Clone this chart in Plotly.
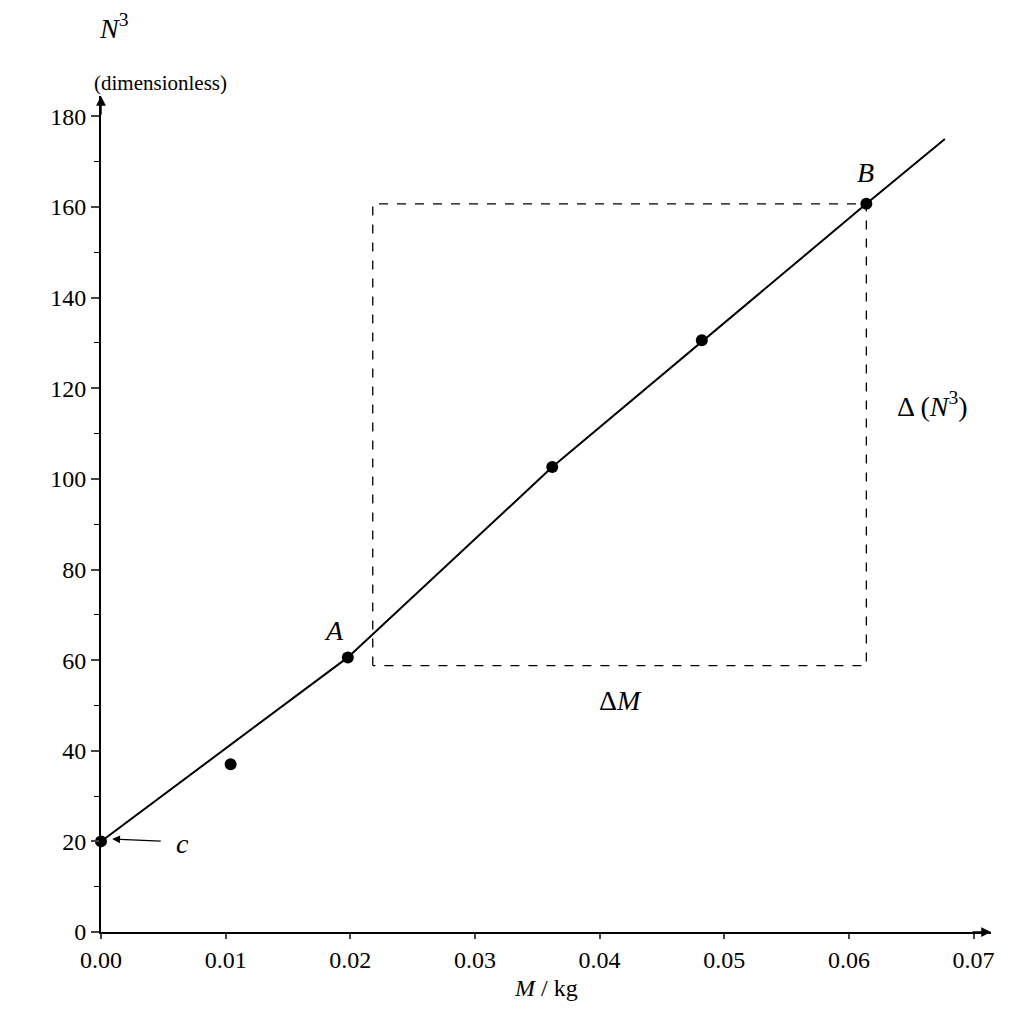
import plotly.graph_objects as go

# measured points
mass = [0.0, 0.0104, 0.0198, 0.0362, 0.0482, 0.0614]
n_cubed = [20.0, 37.0, 60.6, 102.6, 130.6, 160.7]

# best-fit line drawn on the graph
line_x = [0.0, 0.0198, 0.0362, 0.0614, 0.0677]
line_y = [20.0, 60.6, 102.6, 160.7, 175.0]

# triangle for gradient
box_x = [0.0218, 0.0218, 0.0614, 0.0614, 0.0218]
box_y = [58.8, 160.7, 160.7, 58.8, 58.8]

FONT = "Liberation Serif"

fig = go.Figure()
fig.add_trace(go.Scatter(x=box_x, y=box_y, mode="lines",
                         line=dict(color="black", width=1.3, dash="dash"), hoverinfo="skip"))
fig.add_trace(go.Scatter(x=line_x, y=line_y, mode="lines",
                         line=dict(color="black", width=2)))
fig.add_trace(go.Scatter(x=mass, y=n_cubed, mode="markers",
                         marker=dict(color="black", size=12), cliponaxis=False))

fig.update_layout(
    width=1024, height=1024,
    paper_bgcolor="white", plot_bgcolor="white",
    showlegend=False,
    margin=dict(l=93, r=41, t=88, b=100),
    font=dict(family=FONT, size=24, color="black"),
)
fig.update_xaxes(range=[0, 0.0714], tickvals=[0, 0.01, 0.02, 0.03, 0.04, 0.05, 0.06, 0.07],
                 ticktext=["0.00", "0.01", "0.02", "0.03", "0.04", "0.05", "0.06", "0.07"],
                 tickfont=dict(family=FONT, size=24, color="black"),
                 showgrid=False, zeroline=False, showline=True, linecolor="black", linewidth=2,
                 ticks="outside", ticklen=5, tickwidth=1.5)
fig.update_yaxes(range=[0, 184.5], tickvals=list(range(0, 181, 20)),
                 tickfont=dict(family=FONT, size=24, color="black"),
                 showgrid=False, zeroline=False, showline=True, linecolor="black", linewidth=2,
                 ticks="outside", ticklen=8, tickwidth=1.5,
                 minor=dict(tickvals=list(range(10, 181, 20)), ticks="outside", ticklen=5,
                            tickwidth=1.2, tickcolor="black"))

# axis arrows
fig.add_annotation(xref="paper", yref="paper", x=1.0, y=0, ax=-20, ay=0, text="",
                   showarrow=True, arrowhead=2, arrowsize=1.3, arrowwidth=1.5, arrowcolor="black")
fig.add_annotation(xref="paper", yref="paper", x=0, y=1.0, ax=0, ay=20, text="",
                   showarrow=True, arrowhead=2, arrowsize=1.3, arrowwidth=1.5, arrowcolor="black")

ann = dict(showarrow=False, font=dict(family=FONT, size=28, color="black"))
fig.add_annotation(xref="paper", yref="paper", x=-0.005, y=1.06, yanchor="bottom",
                   text="<i>N</i><sup>3</sup>", **ann)
fig.add_annotation(xref="paper", yref="paper", x=-0.01, y=1.032,
                   text="(dimensionless)", showarrow=False,
                   font=dict(family=FONT, size=21, color="black"))
fig.add_annotation(xref="paper", yref="paper", x=0.5, y=-0.085,
                   text="<i>M</i> / kg", showarrow=False,
                   font=dict(family=FONT, size=24, color="black"))
fig.add_annotation(x=0.0417, y=51.2, text="Δ<i>M</i>", **ann)
fig.add_annotation(x=0.0667, y=116.5, text="Δ (<i>N</i><sup>3</sup>)", **ann)
fig.add_annotation(x=0.0187, y=66.5, text="<i>A</i>", **ann)
fig.add_annotation(x=0.0613, y=167.6, text="<i>B</i>", **ann)
fig.add_annotation(x=0.0009, y=20.5, ax=50, ay=2, text="", showarrow=True,
                   arrowhead=2, arrowwidth=1.3, arrowsize=1.2, arrowcolor="black")
fig.add_annotation(x=0.0065, y=19.5, text="<i>c</i>", **ann)

fig.write_html("out.html")
